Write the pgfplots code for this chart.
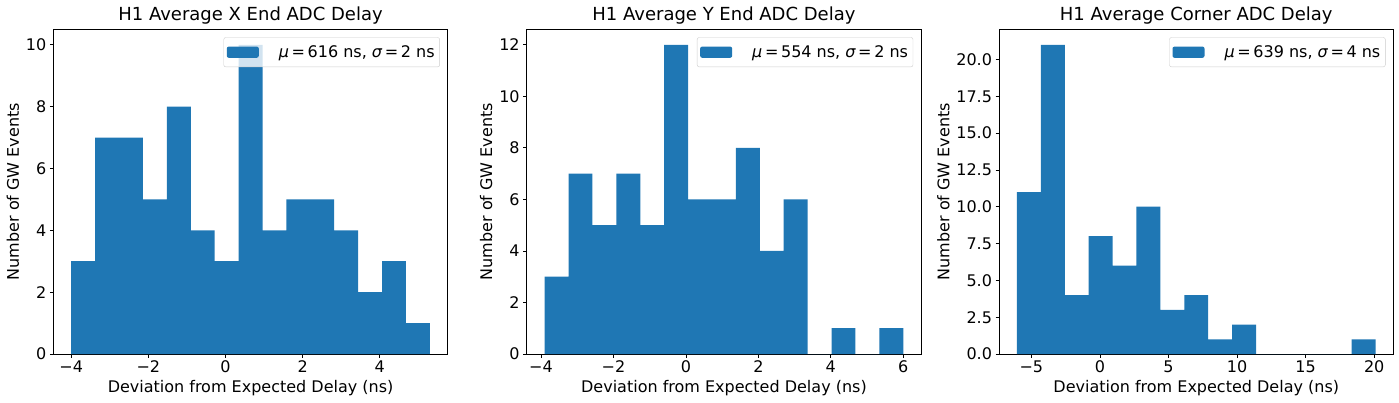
\documentclass[border=0pt]{standalone}
\usepackage{fontspec}
\setmainfont{DejaVu Sans}
\usepackage{pgfplots}
\pgfplotsset{compat=1.18}

\definecolor{c0}{HTML}{1F77B4}

\pgfplotsset{
  hist/.style={
    scale only axis,
    width=394.5pt, height=324.7pt,
    anchor=south west,
    ymin=0,
    axis line style={line width=0.8pt},
    tick align=outside,
    tick pos=left,
    major tick length=3.5pt,
    tick style={black, line width=0.8pt},
    tick label style={font=\fontsize{16}{19}\selectfont},
    label style={font=\fontsize{16}{19}\selectfont},
    title style={font=\fontsize{18}{22}\selectfont, yshift=-4pt},
    xlabel={Deviation from Expected Delay (ns)},
    ylabel={Number of GW Events},
    legend style={at={(1,1)}, anchor=north east, xshift=-8pt, yshift=-8pt,
      draw=black!20, fill=white, fill opacity=0.8, text opacity=1, draw opacity=1,
      rounded corners=2pt, inner xsep=3pt, inner ysep=6pt, column sep=18pt,
      font=\fontsize{16}{19}\selectfont},
  },
  bars/.style={ybar interval, fill=c0, draw=none,
    legend image code/.code={\fill[c0, fill opacity=1] (0pt,-5.6pt) rectangle (32pt,5.6pt);}},
}

\begin{document}
\begin{tikzpicture}
\path[use as bounding box] (0,0) rectangle (1399pt,402pt);

% X end
\begin{axis}[hist, at={(53.3pt,48pt)},
  title={H1 Average X End ADC Delay},
  xmin=-4.465, xmax=5.765, ymax=10.5,
  xtick={-4,-2,0,2,4}, xticklabels={−4,−2,0,2,4},
  ytick={0,2,4,6,8,10}, yticklabels={0,2,4,6,8,10},
]
\addplot[bars] coordinates {
  (-4,3) (-3.38,7) (-2.76,7) (-2.14,5) (-1.52,8) (-0.9,4) (-0.28,3) (0.34,10)
  (0.96,4) (1.58,5) (2.2,5) (2.82,4) (3.44,2) (4.06,3) (4.68,1) (5.3,0)};
\addlegendentry{{\itshape μ}\,=\,616 ns, {\itshape σ}\,=\,2 ns}
\end{axis}

% Y end
\begin{axis}[hist, at={(526.7pt,48pt)},
  title={H1 Average Y End ADC Delay},
  xmin=-4.395, xmax=6.495, ymax=12.6,
  xtick={-4,-2,0,2,4,6}, xticklabels={−4,−2,0,2,4,6},
  ytick={0,2,4,6,8,10,12}, yticklabels={0,2,4,6,8,10,12},
]
\addplot[bars] coordinates {
  (-3.9,3) (-3.24,7) (-2.58,5) (-1.92,7) (-1.26,5) (-0.6,12) (0.06,6) (0.72,6)
  (1.38,8) (2.04,4) (2.7,6) (3.36,0) (4.02,1) (4.68,0) (5.34,1) (6.0,0)};
\addlegendentry{{\itshape μ}\,=\,554 ns, {\itshape σ}\,=\,2 ns}
\end{axis}

% Corner
\begin{axis}[hist, at={(999pt,48pt)},
  title={H1 Average Corner ADC Delay},
  xmin=-7.3575, xmax=21.4075, ymax=22.05,
  xtick={-5,0,5,10,15,20}, xticklabels={−5,0,5,10,15,20},
  ytick={0,2.5,5,7.5,10,12.5,15,17.5,20},
  yticklabels={0.0,2.5,5.0,7.5,10.0,12.5,15.0,17.5,20.0},
]
\addplot[bars] coordinates {
  (-6.05,11) (-4.307,21) (-2.563,4) (-0.82,8) (0.923,6) (2.667,10) (4.41,3) (6.153,4)
  (7.897,1) (9.64,2) (11.383,0) (13.127,0) (14.87,0) (16.613,0) (18.357,1) (20.1,0)};
\addlegendentry{{\itshape μ}\,=\,639 ns, {\itshape σ}\,=\,4 ns}
\end{axis}
\end{tikzpicture}
\end{document}
